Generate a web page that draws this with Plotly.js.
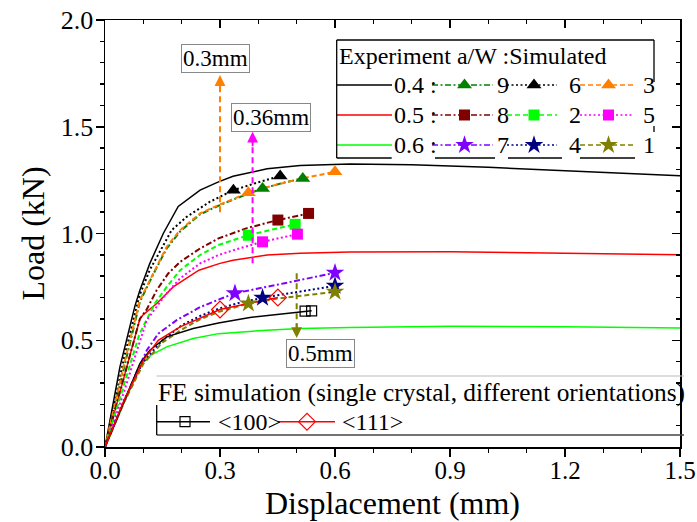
<!DOCTYPE html>
<html><head><meta charset="utf-8">
<script src="https://cdn.plot.ly/plotly-3.0.1.min.js"></script>
<style>html,body{margin:0;padding:0;background:#fff}</style>
</head><body><div id="chart" style="width:697px;height:522px"></div>
<script>
// ---------- DATA ----------
// Experiments (solid)
const exp04_x = [0,0.039,0.078,0.091,0.117,0.152,0.191,0.248,0.296,0.334,0.423,0.509,0.639,0.8,1.0,1.2,1.5];
const exp04_y = [0,0.375,0.66,0.734,0.86,1.0,1.127,1.203,1.242,1.268,1.303,1.318,1.325,1.322,1.31,1.295,1.27];
const exp05_x = [0,0.05,0.091,0.1,0.135,0.178,0.245,0.3,0.334,0.423,0.509,0.639,0.9,1.2,1.5];
const exp05_y = [0,0.33,0.6,0.62,0.672,0.75,0.828,0.86,0.875,0.899,0.908,0.913,0.915,0.908,0.9];
const exp06_x = [0,0.05,0.096,0.12,0.161,0.23,0.296,0.335,0.422,0.509,0.639,0.9,1.2,1.5];
const exp06_y = [0,0.21,0.39,0.43,0.469,0.508,0.531,0.537,0.547,0.555,0.56,0.565,0.563,0.557];
// Simulations 1..9
const sim9_x = [0,0.05,0.091,0.126,0.161,0.196,0.248,0.296,0.35,0.411,0.47,0.516];
const sim9_y = [0,0.38,0.68,0.81,0.93,1.01,1.09,1.13,1.17,1.211,1.24,1.258];
const sim6_x = [0,0.05,0.09,0.117,0.174,0.213,0.274,0.335,0.4,0.457];
const sim6_y = [0,0.42,0.71,0.83,1.016,1.078,1.149,1.203,1.24,1.269];
const sim3_x = [0,0.05,0.091,0.126,0.161,0.196,0.248,0.296,0.374,0.45,0.52,0.6];
const sim3_y = [0,0.39,0.688,0.813,0.938,1.016,1.094,1.133,1.191,1.23,1.26,1.289];
const sim8_x = [0,0.05,0.091,0.109,0.135,0.165,0.196,0.248,0.296,0.37,0.451,0.531];
const sim8_y = [0,0.33,0.6,0.645,0.735,0.813,0.867,0.93,0.977,1.025,1.063,1.094];
const sim2_x = [0,0.05,0.09,0.13,0.161,0.196,0.248,0.296,0.374,0.44,0.496];
const sim2_y = [0,0.3,0.53,0.672,0.75,0.828,0.899,0.946,0.992,1.02,1.043];
const sim5_x = [0,0.05,0.083,0.109,0.157,0.196,0.248,0.296,0.35,0.411,0.502];
const sim5_y = [0,0.26,0.45,0.594,0.711,0.79,0.86,0.899,0.93,0.961,0.997];
const sim7_x = [0,0.04,0.08,0.109,0.139,0.187,0.248,0.296,0.339,0.465,0.6];
const sim7_y = [0,0.17,0.34,0.453,0.531,0.594,0.655,0.69,0.72,0.766,0.816];
const sim4_x = [0,0.05,0.1,0.15,0.2,0.25,0.3,0.35,0.411,0.5,0.6];
const sim4_y = [0,0.22,0.4,0.5,0.57,0.615,0.65,0.675,0.699,0.727,0.755];
const sim1_x = [0,0.05,0.1,0.15,0.2,0.25,0.3,0.374,0.45,0.52,0.6];
const sim1_y = [0,0.21,0.39,0.49,0.55,0.6,0.635,0.672,0.695,0.71,0.727];
// Simulation marker points
const sim9_mx = [0.411,0.516], sim9_my = [1.211,1.258];
const sim6_mx = [0.335,0.457], sim6_my = [1.203,1.269];
const sim3_mx = [0.374,0.6],   sim3_my = [1.191,1.289];
const sim8_mx = [0.451,0.531], sim8_my = [1.063,1.094];
const sim2_mx = [0.374,0.496], sim2_my = [0.992,1.043];
const sim5_mx = [0.411,0.502], sim5_my = [0.961,0.997];
const sim7_mx = [0.339,0.6],   sim7_my = [0.72,0.816];
const sim4_mx = [0.411,0.6],   sim4_my = [0.699,0.755];
const sim1_mx = [0.374,0.6],   sim1_my = [0.672,0.727];
// FE simulations
const fe100_x = [0,0.05,0.091,0.117,0.161,0.23,0.296,0.378,0.45,0.522,0.539];
const fe100_y = [0,0.22,0.391,0.453,0.516,0.555,0.581,0.607,0.622,0.636,0.638];
const fe100_mx = [0.522,0.539], fe100_my = [0.636,0.638];
const fe111_x = [0,0.05,0.1,0.139,0.196,0.248,0.3,0.374,0.451];
const fe111_y = [0,0.22,0.406,0.5,0.563,0.602,0.644,0.672,0.7];
const fe111_mx = [0.3,0.451], fe111_my = [0.644,0.7];
// Ticks and labels
const xTickVals = [0,0.3,0.6,0.9,1.2,1.5];
const xTickText = ['0.0','0.3','0.6','0.9','1.2','1.5'];
const yTickVals = [0,0.5,1.0,1.5,2.0];
const yTickText = ['0.0','0.5','1.0','1.5','2.0'];
const expLabels = ['0.4 :','0.5 :','0.6 :'];
const simLabels = [['9','6','3'],['8','2','5'],['7','4','1']];
const feLabels = ['<100>','<111>'];
const markLines = [0.3, 0.385, 0.5];
const markTexts = ['0.3mm','0.36mm','0.5mm'];

// ---------- STYLE ----------
const FONT = 'Liberation Serif, Times New Roman, Times, serif';
const DASH = '5px,3px', DOT = '2px,2.5px', DASHDOT = '6px,2.5px,2px,2.5px';
const expStyle = [{c:'#000000'},{c:'#FF0000'},{c:'#00FF00'}];
const simStyle = [
  [{c:'#008000',d:DASHDOT,s:'triangle-up',z:13},{c:'#000000',d:DOT,s:'triangle-up',z:13},{c:'#FF8000',d:DASH,s:'triangle-up',z:13}],
  [{c:'#800000',d:DASHDOT,s:'square',z:11},{c:'#00FF00',d:DASH,s:'square',z:11},{c:'#FF00FF',d:DOT,s:'square',z:11}],
  [{c:'#8000FF',d:DASHDOT,s:'star',z:14},{c:'#000080',d:DOT,s:'star',z:14},{c:'#808000',d:DASH,s:'star',z:14}]
];
const simData = [
  [[sim9_x,sim9_y,sim9_mx,sim9_my],[sim6_x,sim6_y,sim6_mx,sim6_my],[sim3_x,sim3_y,sim3_mx,sim3_my]],
  [[sim8_x,sim8_y,sim8_mx,sim8_my],[sim2_x,sim2_y,sim2_mx,sim2_my],[sim5_x,sim5_y,sim5_mx,sim5_my]],
  [[sim7_x,sim7_y,sim7_mx,sim7_my],[sim4_x,sim4_y,sim4_mx,sim4_my],[sim1_x,sim1_y,sim1_mx,sim1_my]]
];
const expData = [[exp04_x,exp04_y],[exp05_x,exp05_y],[exp06_x,exp06_y]];

const traces = [];
expData.forEach((d,i)=>traces.push({x:d[0],y:d[1],mode:'lines',line:{color:expStyle[i].c,width:1.5},hoverinfo:'skip'}));
simData.forEach((row,r)=>row.forEach((d,c)=>{
  const st = simStyle[r][c];
  traces.push({x:d[0],y:d[1],mode:'lines',line:{color:st.c,width:2,dash:st.d},hoverinfo:'skip'});
}));
traces.push({x:fe100_x,y:fe100_y,mode:'lines',line:{color:'#000000',width:1.5},hoverinfo:'skip'});
traces.push({x:fe111_x,y:fe111_y,mode:'lines',line:{color:'#FF0000',width:1.5},hoverinfo:'skip'});
simData.forEach((row,r)=>row.forEach((d,c)=>{
  const st = simStyle[r][c];
  traces.push({x:d[2],y:d[3],mode:'markers',marker:{symbol:st.s,size:st.z,color:st.c,line:{width:0}},hoverinfo:'skip',cliponaxis:false});
}));
traces.push({x:fe100_mx,y:fe100_my,mode:'markers',marker:{symbol:'square-open',size:10,color:'#000000',line:{width:1.2}},hoverinfo:'skip'});
traces.push({x:fe111_mx,y:fe111_my,mode:'markers',marker:{symbol:'diamond-open',size:13,color:'#FF0000',line:{width:1.2}},hoverinfo:'skip'});

// dummy trace for inside mirror ticks (top/right)
traces.push({x:[null],y:[null],xaxis:'x3',yaxis:'y3',mode:'markers',hoverinfo:'skip'});

// ---------- LEGEND (pixel layout on overlay axes) ----------
const PX = p => (p-105)/575, PY = p => (447-p)/427;
const rowY = [85,115,145];
const colLine = [[432,493],[507,557],[580,633]];
const colText = [495,567,641];
const annotations = [];
const shapes = [];
rowY.forEach((yy,r)=>{
  traces.push({x:[337,392],y:[yy,yy],xaxis:'x2',yaxis:'y2',mode:'lines',line:{color:expStyle[r].c,width:1.5},hoverinfo:'skip'});
  annotations.push({xref:'paper',yref:'paper',x:PX(392),y:PY(yy),xanchor:'left',yanchor:'middle',text:expLabels[r],showarrow:false,font:{family:FONT,size:24,color:'#000'}});
  colLine.forEach((cl,c)=>{
    const st = simStyle[r][c];
    traces.push({x:[cl[0],cl[1]],y:[yy,yy],xaxis:'x2',yaxis:'y2',mode:'lines',line:{color:st.c,width:1.5,dash:st.d},hoverinfo:'skip'});
    traces.push({x:[(cl[0]+cl[1])/2+2],y:[yy],xaxis:'x2',yaxis:'y2',mode:'markers',marker:{symbol:st.s,size:st.z,color:st.c},hoverinfo:'skip',cliponaxis:false});
    annotations.push({xref:'paper',yref:'paper',x:PX(colText[c]),y:PY(yy),xanchor:'left',yanchor:'middle',text:simLabels[r][c],showarrow:false,font:{family:FONT,size:24,color:'#000'}});
  });
});
annotations.push({xref:'paper',yref:'paper',x:PX(337),y:PY(56),xanchor:'left',yanchor:'middle',text:'Experiment a/W :Simulated',showarrow:false,font:{family:FONT,size:24,color:'#000'}});
// legend box pieces
const L1 = {l:336.7,t:40,r:654,b:158};
const seg = (x0,y0,x1,y1,col,w)=>shapes.push({type:'line',xref:'paper',yref:'paper',x0:PX(x0),y0:PY(y0),x1:PX(x1),y1:PY(y1),line:{color:col,width:w}});
seg(L1.l,L1.t,L1.r,L1.t,'#000',1.3);
seg(L1.l,L1.t,L1.l,L1.b,'#000',1.3);
seg(L1.r,L1.t,L1.r,82,'#000',1.3);
seg(L1.r,126,L1.r,132,'#000',1.3);
[[336.7,391.7],[435,495],[508,562],[580,635]].forEach(s=>seg(s[0],L1.b,s[1],L1.b,'#000',1.3));

// FE legend
annotations.push({xref:'paper',yref:'paper',x:PX(156),y:PY(392),xanchor:'left',yanchor:'middle',text:'FE simulation (single crystal, different orientations)',showarrow:false,font:{family:FONT,size:25.4,color:'#000'}});
const feY = 421.7;
traces.push({x:[157,210],y:[feY,feY],xaxis:'x2',yaxis:'y2',mode:'lines',line:{color:'#000',width:1.5},hoverinfo:'skip'});
traces.push({x:[185],y:[feY],xaxis:'x2',yaxis:'y2',mode:'markers',marker:{symbol:'square-open',size:10,color:'#000',line:{width:1.2}},hoverinfo:'skip'});
traces.push({x:[278,335],y:[feY,feY],xaxis:'x2',yaxis:'y2',mode:'lines',line:{color:'#FF0000',width:1.5},hoverinfo:'skip'});
traces.push({x:[307],y:[feY],xaxis:'x2',yaxis:'y2',mode:'markers',marker:{symbol:'diamond-open',size:13,color:'#FF0000',line:{width:1.2}},hoverinfo:'skip'});
annotations.push({xref:'paper',yref:'paper',x:PX(216),y:PY(feY),xanchor:'left',yanchor:'middle',text:'&lt;100&gt;',showarrow:false,font:{family:FONT,size:24,color:'#000'}});
annotations.push({xref:'paper',yref:'paper',x:PX(340),y:PY(feY),xanchor:'left',yanchor:'middle',text:'&lt;111&gt;',showarrow:false,font:{family:FONT,size:24,color:'#000'}});
seg(156.7,376,684,376,'#bbbbbb',1.2);
seg(156.7,435,684,435,'#444444',1.3);
seg(156.7,405,156.7,435,'#000',1.3);

// ---------- displacement markers (arrows + boxes) ----------
const arrowCol = ['#FF8000','#FF00FF','#808000'];
shapes.push({type:'line',xref:'x',yref:'y',x0:markLines[0],x1:markLines[0],y0:1.10,y1:1.70,line:{color:arrowCol[0],width:2,dash:'6px,4px'}});
annotations.push({xref:'x',yref:'y',x:markLines[0],y:1.742,ax:0,ay:16,showarrow:true,arrowhead:2,arrowsize:1.2,arrowwidth:1.8,arrowcolor:arrowCol[0],text:''});
annotations.push({xref:'x',yref:'y',x:0.287,y:1.818,text:markTexts[0],showarrow:false,bgcolor:'#fff',bordercolor:'#888',borderwidth:1,borderpad:1,font:{family:FONT,size:23,color:'#000'}});
shapes.push({type:'line',xref:'x',yref:'y',x0:markLines[1],x1:markLines[1],y0:0.861,y1:1.44,line:{color:arrowCol[1],width:2,dash:'6px,4px'}});
annotations.push({xref:'x',yref:'y',x:markLines[1],y:1.477,ax:0,ay:16,showarrow:true,arrowhead:2,arrowsize:1.2,arrowwidth:1.8,arrowcolor:arrowCol[1],text:''});
annotations.push({xref:'x',yref:'y',x:0.433,y:1.545,text:markTexts[1],showarrow:false,bgcolor:'#fff',bordercolor:'#888',borderwidth:1,borderpad:1,font:{family:FONT,size:23,color:'#000'}});
shapes.push({type:'line',xref:'x',yref:'y',x0:markLines[2],x1:markLines[2],y0:0.814,y1:0.55,line:{color:arrowCol[2],width:2,dash:'6px,4px'}});
annotations.push({xref:'x',yref:'y',x:markLines[2],y:0.51,ax:0,ay:-16,showarrow:true,arrowhead:2,arrowsize:1.2,arrowwidth:1.8,arrowcolor:arrowCol[2],text:''});
annotations.push({xref:'x',yref:'y',x:0.561,y:0.439,text:markTexts[2],showarrow:false,bgcolor:'#fff',bordercolor:'#888',borderwidth:1,borderpad:1,font:{family:FONT,size:23,color:'#000'}});

const layout = {
  width:697,height:522,
  margin:{l:105,r:17,t:20,b:75},
  paper_bgcolor:'#fff',plot_bgcolor:'#fff',
  showlegend:false,
  font:{family:FONT,color:'#000'},
  xaxis:{range:[0,1.5],tickvals:xTickVals,ticktext:xTickText,ticks:'outside',ticklen:8,tickwidth:1.5,tickcolor:'#000',
    minor:{dtick:0.1,tick0:0,ticks:'outside',ticklen:4,tickwidth:1.5,tickcolor:'#000'},
    showline:true,linewidth:1.5,linecolor:'#000',mirror:true,showgrid:false,zeroline:false,
    ticklabelstandoff:-8,
    tickfont:{family:FONT,size:25,color:'#000'},
    title:{text:'Displacement (mm)',font:{family:FONT,size:32,color:'#000'},standoff:9}},
  yaxis:{range:[0,2],tickvals:yTickVals,ticktext:yTickText,ticks:'outside',ticklen:8,tickwidth:1.5,tickcolor:'#000',
    minor:{dtick:0.1,tick0:0,ticks:'outside',ticklen:4,tickwidth:1.5,tickcolor:'#000'},
    showline:true,linewidth:1.5,linecolor:'#000',mirror:true,showgrid:false,zeroline:false,
    ticklabelstandoff:-3,
    tickfont:{family:FONT,size:26,color:'#000'},
    title:{text:'Load (kN)',font:{family:FONT,size:32,color:'#000'},standoff:6}},
  xaxis2:{overlaying:'x',range:[105,680],visible:false,fixedrange:true},
  yaxis2:{overlaying:'y',range:[447,20],visible:false,fixedrange:true},
  xaxis3:{overlaying:'x',side:'top',range:[0,1.5],tickvals:xTickVals,showticklabels:false,ticks:'inside',ticklen:8,tickwidth:1.5,tickcolor:'#000',
    minor:{dtick:0.1,tick0:0,ticks:'inside',ticklen:4,tickwidth:1.5,tickcolor:'#000'},showgrid:false,zeroline:false,showline:false},
  yaxis3:{overlaying:'y',side:'right',range:[0,2],tickvals:yTickVals,showticklabels:false,ticks:'inside',ticklen:8,tickwidth:1.5,tickcolor:'#000',
    minor:{dtick:0.1,tick0:0,ticks:'inside',ticklen:4,tickwidth:1.5,tickcolor:'#000'},showgrid:false,zeroline:false,showline:false},
  shapes:shapes,
  annotations:annotations
};
Plotly.newPlot('chart',traces,layout,{staticPlot:true,displayModeBar:false});
</script></body></html>
